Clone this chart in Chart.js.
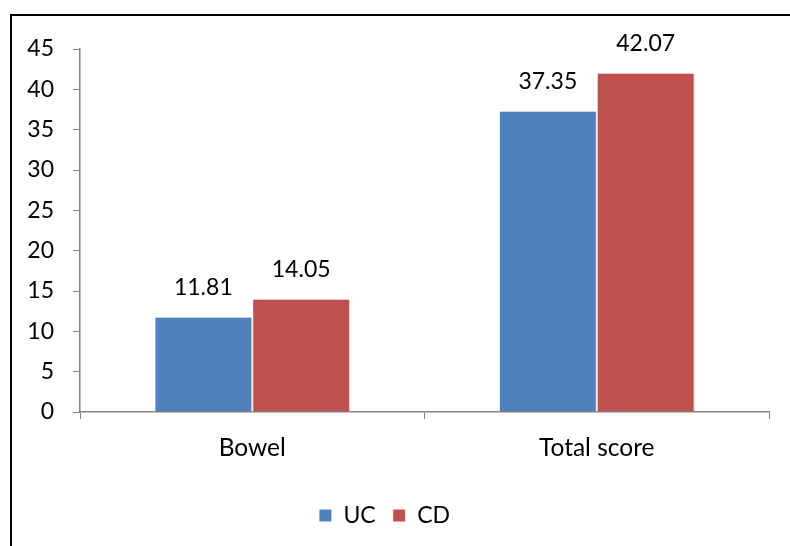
<!DOCTYPE html>
<html>
<head>
<meta charset="utf-8">
<script src="https://cdn.jsdelivr.net/npm/chart.js@4/dist/chart.umd.min.js"></script>
<style>
  html, body { margin: 0; padding: 0; background: #ffffff; }
  #wrap { width: 790px; height: 546px; position: relative; }
</style>
</head>
<body>
<div id="wrap"><canvas id="chart" width="790" height="546"></canvas></div>
<script>
// Categories and series values
const categories = ['Bowel', 'Total score'];
const ucValues = [11.81, 37.35];
const cdValues = [14.05, 42.07];
const seriesNames = ['UC', 'CD'];
const yTicks = [0, 5, 10, 15, 20, 25, 30, 35, 40, 45];

const FONT = 'Lato, "Open Sans", sans-serif';

// Outer frame (top and left edges of the chart box)
const framePlugin = {
  id: 'frame',
  beforeDraw(chart) {
    const ctx = chart.ctx;
    ctx.save();
    ctx.fillStyle = '#ffffff';
    ctx.fillRect(0, 0, chart.width, chart.height);
    ctx.strokeStyle = '#000000';
    ctx.lineWidth = 2;
    ctx.beginPath();
    ctx.moveTo(11, chart.height);
    ctx.lineTo(11, 15);
    ctx.lineTo(chart.width, 15);
    ctx.stroke();
    ctx.restore();
  }
};

// Soft shadow behind the bars
const shadowPlugin = {
  id: 'barShadow',
  beforeDatasetsDraw(chart) {
    const ctx = chart.ctx;
    ctx.save();
    ctx.shadowColor = 'rgba(0,0,0,0.18)';
    ctx.shadowBlur = 4;
    ctx.shadowOffsetX = 1.5;
    ctx.shadowOffsetY = 1;
  },
  afterDatasetsDraw(chart) {
    chart.ctx.restore();
  }
};

// Value labels above each bar
const valueLabelPlugin = {
  id: 'valueLabels',
  afterDatasetsDraw(chart) {
    const ctx = chart.ctx;
    ctx.save();
    ctx.font = '23px ' + FONT;
    ctx.fillStyle = '#000000';
    ctx.textAlign = 'center';
    ctx.textBaseline = 'alphabetic';
    chart.data.datasets.forEach((ds, di) => {
      const meta = chart.getDatasetMeta(di);
      meta.data.forEach((bar, i) => {
        ctx.fillText(ds.data[i].toFixed(2), bar.x, bar.y - 22);
      });
    });
    ctx.restore();
  }
};

new Chart(document.getElementById('chart'), {
  type: 'bar',
  data: {
    labels: categories,
    datasets: [
      {
        label: seriesNames[0],
        data: ucValues,
        backgroundColor: '#4F81BD',
        borderColor: '#ffffff',
        borderWidth: 1,
        categoryPercentage: 0.568,
        barPercentage: 1.0
      },
      {
        label: seriesNames[1],
        data: cdValues,
        backgroundColor: '#C0504D',
        borderColor: '#ffffff',
        borderWidth: 1,
        categoryPercentage: 0.568,
        barPercentage: 1.0
      }
    ]
  },
  options: {
    responsive: false,
    animation: false,
    devicePixelRatio: 1,
    layout: { padding: { top: 49, right: 21, left: 0, bottom: 9 } },
    plugins: {
      tooltip: { enabled: false },
      legend: {
        display: true,
        position: 'bottom',
        labels: {
          font: { family: FONT, size: 23 },
          color: '#000000',
          boxWidth: 13,
          boxHeight: 13,
          padding: 17
        }
      }
    },
    scales: {
      x: {
        grid: {
          offset: true,
          drawOnChartArea: false,
          drawTicks: true,
          tickLength: 7,
          color: '#868686'
        },
        border: { display: true, color: '#868686', width: 1.5 },
        ticks: {
          font: { family: FONT, size: 24.5 },
          color: '#000000',
          padding: 14
        },
        afterFit(scale) { scale.height = 75; }
      },
      y: {
        min: 0,
        max: 45,
        afterBuildTicks(scale) { scale.ticks = yTicks.map(v => ({ value: v })); },
        grid: {
          drawOnChartArea: false,
          drawTicks: true,
          tickLength: 7,
          color: '#868686'
        },
        border: { display: true, color: '#868686', width: 1.5 },
        ticks: {
          font: { family: FONT, size: 23 },
          color: '#000000',
          padding: 19
        },
        afterFit(scale) { scale.width = 80; }
      }
    }
  },
  plugins: [framePlugin, shadowPlugin, valueLabelPlugin]
});
</script>
</body>
</html>
